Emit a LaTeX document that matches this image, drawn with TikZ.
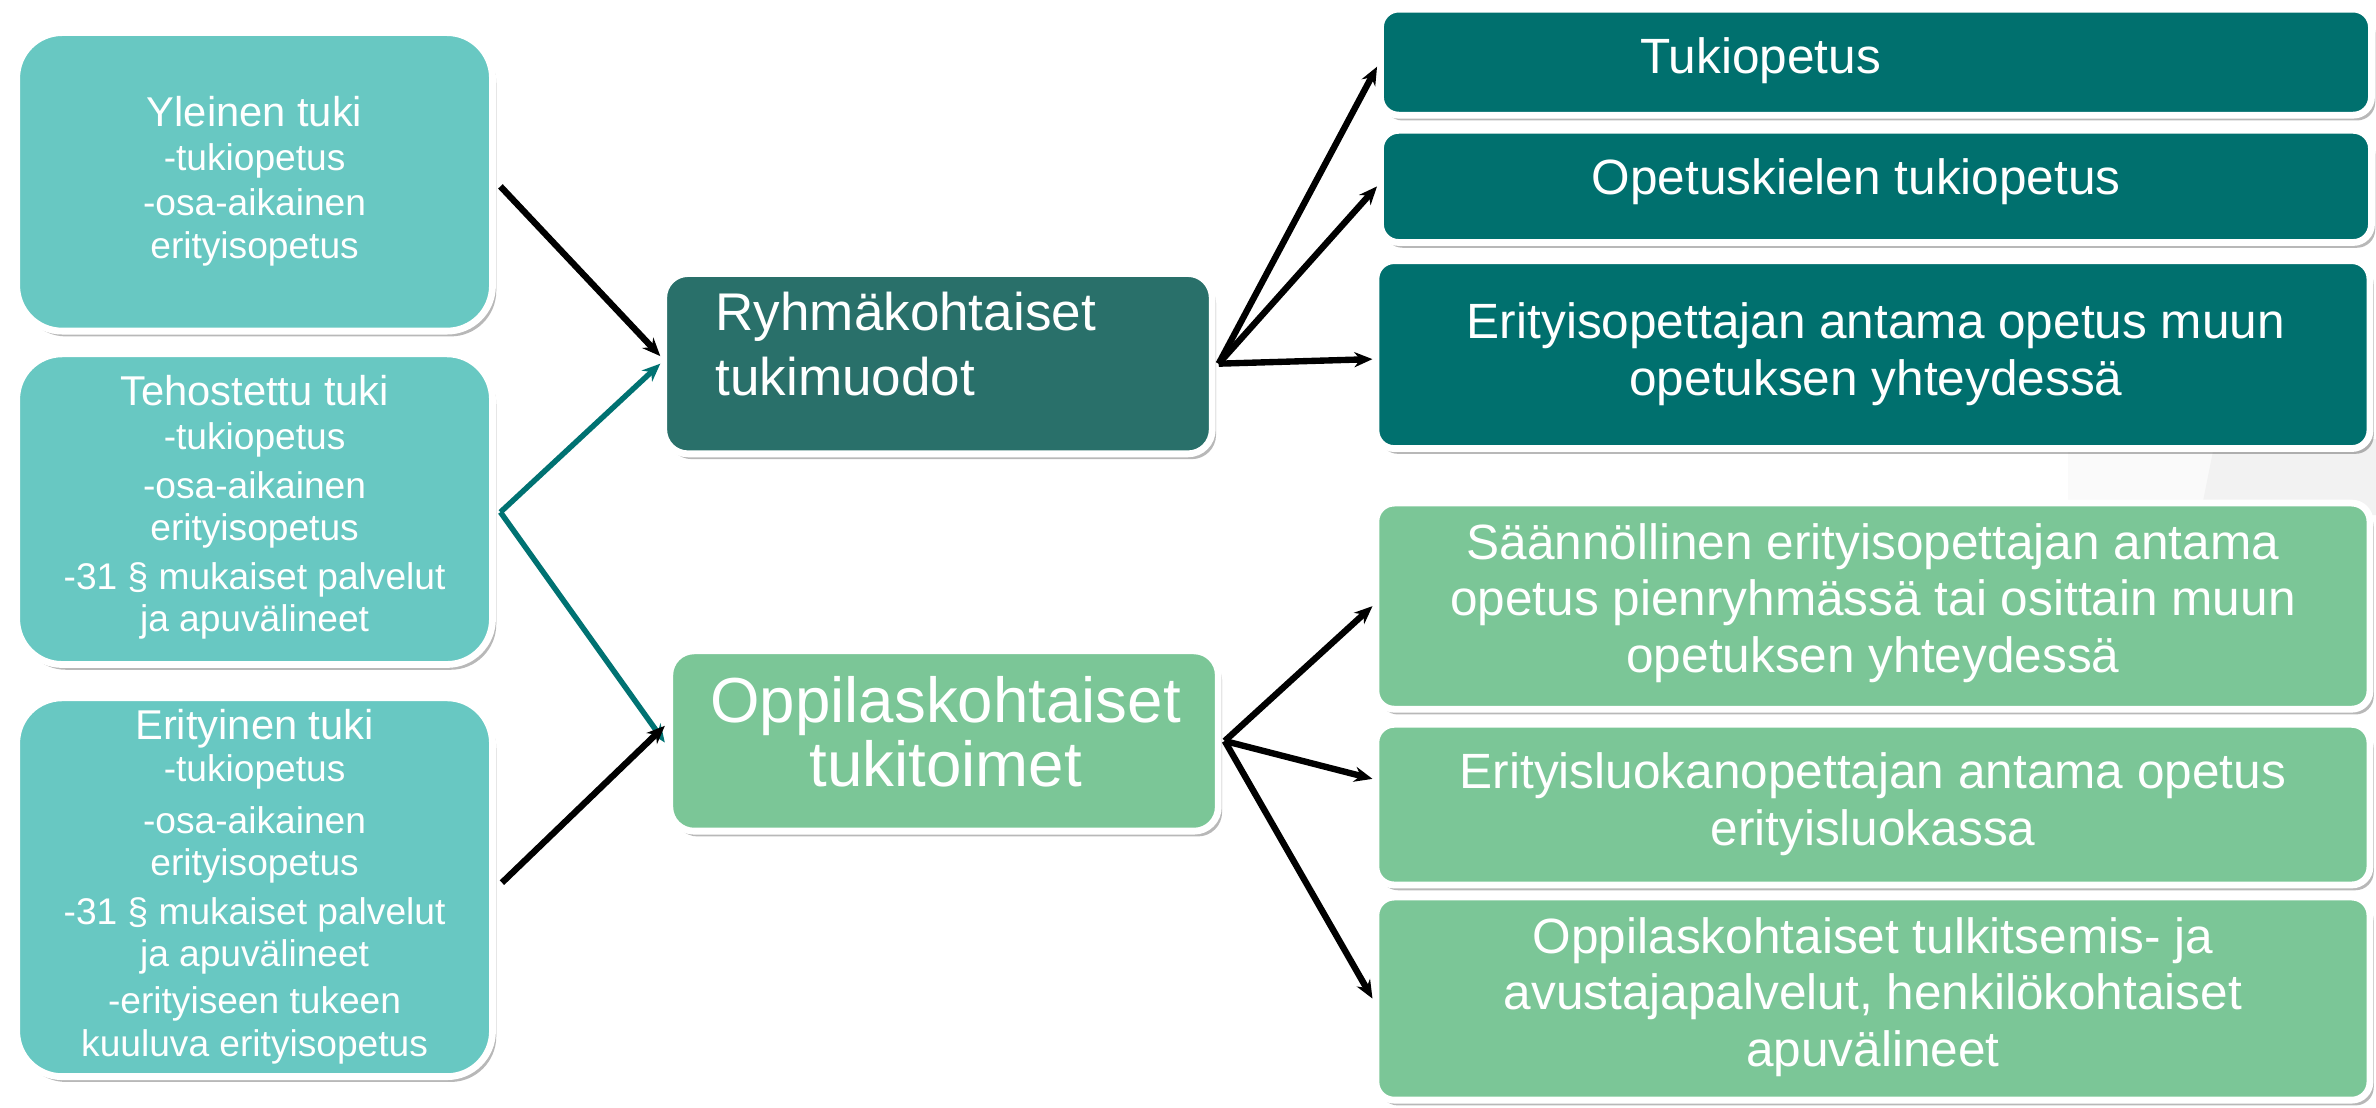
\documentclass[tikz,border=0pt]{standalone}
\usepackage{fontspec}
\setmainfont{Liberation Sans}
\usetikzlibrary{shadows,arrows.meta,calc}
\definecolor{turq}{HTML}{68C8C2}
\definecolor{dteal}{HTML}{29706A}
\definecolor{tealbox}{HTML}{00706E}
\definecolor{mgreen}{HTML}{7BC697}
\definecolor{arrteal}{HTML}{007272}
\begin{document}
\begin{tikzpicture}[x=1pt,y=-1pt,
  box/.style={draw=white,line width=4.5pt,rectangle,inner sep=0pt,
    drop shadow={shadow xshift=2.5pt,shadow yshift=-3.5pt,opacity=0.28,fill=black}},
  lbox/.style={box,fill=turq,rounded corners=30pt,minimum width=314pt},
  cbox/.style={box,rounded corners=16pt,minimum width=362pt,minimum height=119pt},
  rbox/.style={box,rounded corners=12pt,minimum width=654pt},
  ltxt/.style={text=white,align=center,inner sep=0pt,font=\fontsize{24.5}{28}\selectfont},
  rtxt/.style={text=white,align=center,inner sep=0pt,font=\fontsize{32.7}{37.5}\selectfont},
  arr/.style={-{Stealth[length=12pt,width=10pt]},line width=4.2pt,black},
  tarr/.style={arr,arrteal,line width=3.6pt}]
\useasboundingbox (0,0) rectangle (1568,731);
\fill[white] (0,0) rectangle (1568,731);
% faint background decoration
\fill[black!2] (1365,290) rectangle (1568,340);
\fill[black!5] (1462,290) -- (1568,290) -- (1568,340) -- (1452,340) -- cycle;

% left column
\node[lbox,minimum height=197pt] (L1) at (168,120) {};
\node[ltxt] (T1) at (168,119.5) {{\fontsize{27.5}{30}\selectfont Yleinen tuki}\\[1pt]-tukiopetus\\[2pt]-osa-aikainen\\erityisopetus};
\node[lbox,minimum height=205pt] (L2) at (168,336) {};
\node[ltxt] (T2) at (168,335) {{\fontsize{27.5}{30}\selectfont Tehostettu tuki}\\[1pt]-tukiopetus\\[4pt]-osa-aikainen\\erityisopetus\\[4pt]-31 § mukaiset palvelut\\ja apuvälineet};
\node[lbox,minimum height=250pt] (L3) at (168,585.5) {};
\node[ltxt] (T3) at (168,585) {{\fontsize{27.5}{30}\selectfont Erityinen tuki}\\-tukiopetus\\[6pt]-osa-aikainen\\erityisopetus\\[4pt]-31 § mukaiset palvelut\\ja apuvälineet\\[3pt]-erityiseen tukeen\\kuuluva erityisopetus};

% centre column
\node[cbox,fill=dteal] (C1) at (619,240) {};
\node[text=white,align=left,inner sep=0pt,anchor=west,font=\fontsize{35}{43}\selectfont] (CT1) at (472,227) {Ryhmäkohtaiset\\tukimuodot};
\node[cbox,fill=mgreen] (C2) at (623,489) {};
\node[text=white,align=center,inner sep=0pt,font=\fontsize{42}{42}\selectfont] (CT2) at (624,483) {Oppilaskohtaiset\\tukitoimet};

% right column
\node[rbox,fill=tealbox,minimum height=70pt] (R1) at (1238,41) {};
\node[rtxt] (RT1) at (1162,40) {Tukiopetus};
\node[rbox,fill=tealbox,minimum height=74pt] (R2) at (1238,123) {};
\node[rtxt] (RT2) at (1225,120) {Opetuskielen tukiopetus};
\node[rbox,fill=tealbox,minimum height=124pt,minimum width=656pt] (R3) at (1236,234) {};
\node[rtxt] (RT3) at (1238,234) {Erityisopettajan antama opetus muun\\opetuksen yhteydessä};
\node[rbox,fill=mgreen,minimum height=136pt,minimum width=656pt] (R4) at (1236,400) {};
\node[rtxt] (RT4) at (1236,398) {Säännöllinen erityisopettajan antama\\opetus pienryhmässä tai osittain muun\\opetuksen yhteydessä};
\node[rbox,fill=mgreen,minimum height=106pt,minimum width=656pt] (R5) at (1236,531) {};
\node[rtxt] (RT5) at (1236,530.5) {Erityisluokanopettajan antama opetus\\erityisluokassa};
\node[rbox,fill=mgreen,minimum height=134pt,minimum width=656pt] (R6) at (1236,659) {};
\node[rtxt] (RT6) at (1236,658) {Oppilaskohtaiset tulkitsemis- ja\\avustajapalvelut, henkilökohtaiset\\apuvälineet};

% connectors
\draw[arr] ($(L1.east)+(3,3)$) -- ($(C1.west)+(0,-5)$);
\draw[tarr] ($(L2.east)+(3,2)$) -- ($(C1.west)+(0,0)$);
\draw[tarr] ($(L2.east)+(3,2)$) -- ($(C2.west)+(-1,1)$);
\draw[arr] ($(L3.east)+(4,-3)$) -- ($(C2.west)+(-1,-10)$);
\draw[arr] ($(C1.east)+(2,0)$) -- ($(R1.west)+(0,3)$);
\draw[arr] ($(C1.east)+(2,0)$) -- ($(R2.west)+(0,0)$);
\draw[arr] ($(C1.east)+(2,0)$) -- ($(R3.west)+(0,3)$);
\draw[arr] ($(C2.east)+(2,0)$) -- ($(R4.west)+(0,0)$);
\draw[arr] ($(C2.east)+(2,0)$) -- ($(R5.west)+(0,-17)$);
\draw[arr] ($(C2.east)+(2,0)$) -- ($(R6.west)+(0,0)$);
\end{tikzpicture}
\end{document}
